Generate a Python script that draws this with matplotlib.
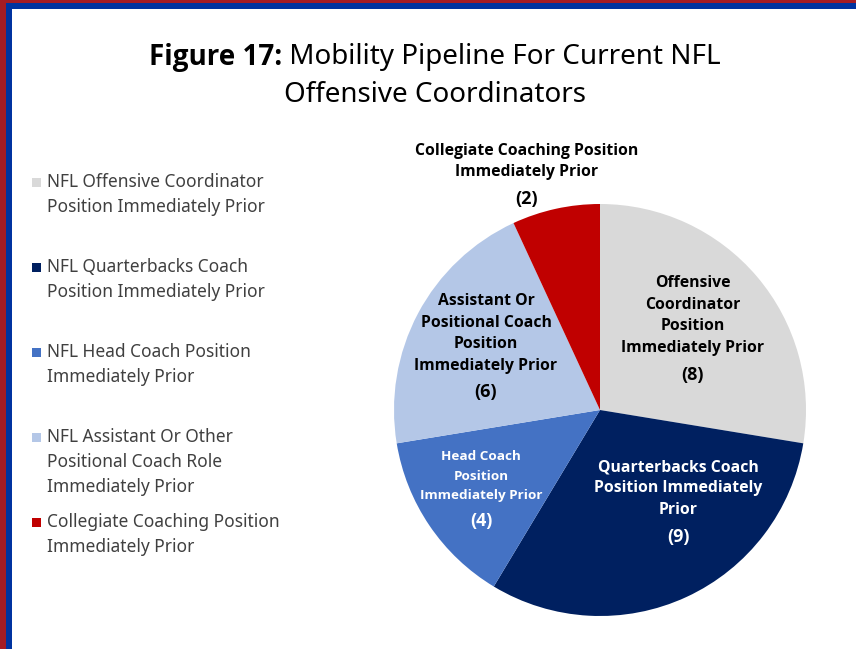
import matplotlib
matplotlib.use("Agg")
import matplotlib.pyplot as plt
from matplotlib.patches import Rectangle

plt.rcParams['font.family'] = ['Noto Sans', 'DejaVu Sans']
BOLD_FAMILY = ['Open Sans', 'DejaVu Sans']

# ---- data ----
categories = ["Offensive Coordinator", "Quarterbacks Coach", "Head Coach",
              "Assistant Or Positional Coach", "Collegiate Coaching"]
values = [8, 9, 4, 6, 2]
colors = ["#D9D9D9", "#002060", "#4472C4", "#B4C7E7", "#C00000"]
slice_labels = [
    "Offensive\nCoordinator\nPosition\nImmediately Prior",
    "Quarterbacks Coach\nPosition Immediately\nPrior",
    "Head Coach\nPosition\nImmediately Prior",
    "Assistant Or\nPositional Coach\nPosition\nImmediately Prior",
    "Collegiate Coaching Position\nImmediately Prior",
]
legend_labels = [
    "NFL Offensive Coordinator\nPosition Immediately Prior",
    "NFL Quarterbacks Coach\nPosition Immediately Prior",
    "NFL Head Coach Position\nImmediately Prior",
    "NFL Assistant Or Other\nPositional Coach Role\nImmediately Prior",
    "Collegiate Coaching Position\nImmediately Prior",
]
title_bold = "Figure 17:"
title_rest = " Mobility Pipeline For Current NFL"
title_line2 = "Offensive Coordinators"

W, H = 856, 649
fig = plt.figure(figsize=(W / 100, H / 100), dpi=100)
fig.patch.set_facecolor("#A51C24")

def fx(px):
    return px / W

def fy(py):
    return 1 - py / H

# ---- border frame ----
fig.patches.append(Rectangle((fx(6), fy(H + 10)), 1, fy(3) - fy(H + 10),
                             transform=fig.transFigure,
                             facecolor="#0033A0", edgecolor="none", zorder=-2))
fig.patches.append(Rectangle((fx(12), fy(H + 10)), 1, fy(9) - fy(H + 10),
                             transform=fig.transFigure,
                             facecolor="white", edgecolor="none", zorder=-1))

# ---- pie ----
cx, cy, r = 600, 410, 206
ax = fig.add_axes([fx(cx - r), fy(cy + r), 2 * r / W, 2 * r / H])
ax.set_zorder(1)
ax.pie(values, colors=colors, startangle=90, counterclock=False,
       radius=1, wedgeprops=dict(linewidth=0))
ax.set_xlim(-1, 1)
ax.set_ylim(-1, 1)
ax.set_aspect("equal")
ax.axis("off")

# label positions (pixel) : (x, first line y, line gap, font size, number y, num size, color)
label_specs = [
    (693, 283, 21.6, 11.3, 375, 13, "black"),
    (678, 467, 21.5, 11.3, 537, 13, "white"),
    (481, 457, 19.0, 9.7, 521, 13, "white"),
    (486, 301, 21.7, 11.3, 392, 13, "black"),
    (527, 151, 21.0, 11.3, 199, 13, "black"),
]
for lab, v, spec in zip(slice_labels, values, label_specs):
    x, y0, gap, fs, ny, nfs, col = spec
    for i, line in enumerate(lab.split("\n")):
        fig.text(fx(x), fy(y0 + i * gap), line, ha="center", va="center",
                 fontsize=fs, fontweight="bold", color=col,
                 family=BOLD_FAMILY, zorder=3)
    fig.text(fx(x), fy(ny), f"({v})", ha="center", va="center",
             fontsize=nfs, fontweight="bold", color=col,
             family=BOLD_FAMILY, zorder=3)

# ---- legend (manual) ----
starts = [182, 267, 352, 437, 522]
for lab, c, y0 in zip(legend_labels, colors, starts):
    fig.patches.append(Rectangle((fx(32), fy(y0 + 4.5)), 9 / W, 9 / H,
                                 transform=fig.transFigure, facecolor=c,
                                 edgecolor="none", zorder=2))
    for i, line in enumerate(lab.split("\n")):
        fig.text(fx(47), fy(y0 + i * 25), line, ha="left", va="center",
                 fontsize=12.5, color="#404040", zorder=3)

# ---- title ----
fig.canvas.draw()
renderer = fig.canvas.get_renderer()
t1 = fig.text(0, fy(57), title_bold, fontsize=20, fontweight="bold",
              family=BOLD_FAMILY, ha="left", va="center", color="black", zorder=3)
t2 = fig.text(0, fy(57), title_rest, fontsize=20, ha="left", va="center",
              color="black", zorder=3)
w1 = t1.get_window_extent(renderer).width
w2 = t2.get_window_extent(renderer).width
left = 435 - (w1 + w2) / 2
t1.set_x(fx(left))
t2.set_x(fx(left + w1))
fig.text(fx(435), fy(95), title_line2, fontsize=20, ha="center", va="center",
         color="black", zorder=3)

fig.savefig("out.png", dpi=100, facecolor=fig.get_facecolor())
